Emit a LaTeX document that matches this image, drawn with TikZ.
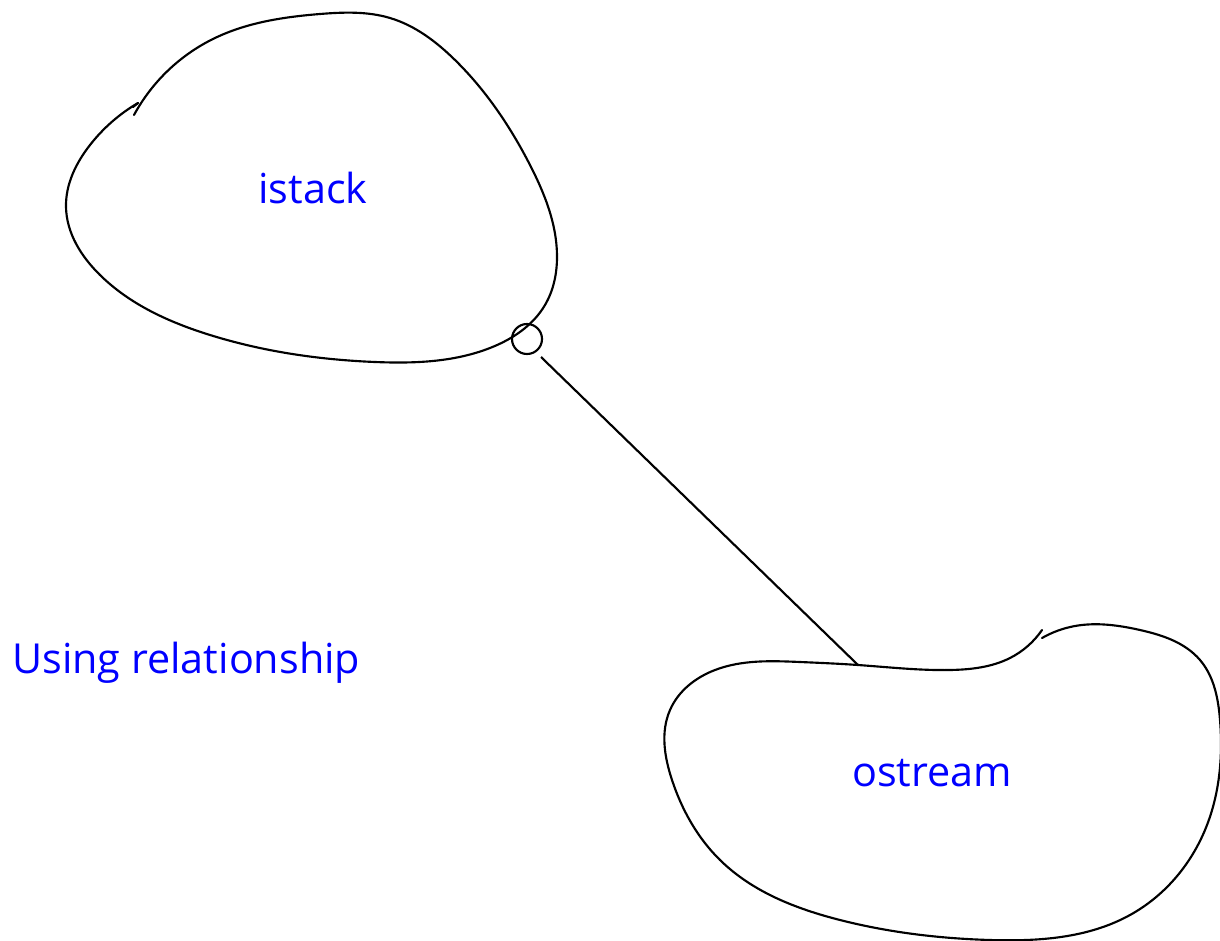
\documentclass[tikz,border=0pt]{standalone}
\usepackage{fontspec}
\setmainfont{Open Sans}
\usetikzlibrary{hobby}
\begin{document}
\begin{tikzpicture}[x=0.75pt,y=-0.75pt,
  cloudline/.style={draw=black,line width=1.6pt,line cap=round},
  label/.style={text=blue,font=\fontsize{31}{36}\selectfont,inner sep=0pt}]
\useasboundingbox (0,0) rectangle (1220,941);
% istack cloud
\draw[cloudline] (138,103) to[curve through={(90,145) (66,207) (100,275) (210,335) (375,362) (490,348) (545,305) (557,255) (530,165) (455,60) (390,18) (320,14) (215,38)}] (134,115);
\draw[cloudline] (138,103) -- (133,107);
% ostream cloud
\draw[cloudline] (1042,638) to[curve through={(1075,626) (1140,630) (1200,660) (1220,720) (1205,830) (1130,915) (990,940) (840,920) (720,860) (672,780) (670,710) (715,670) (800,662) (858,665) (950,670) (1010,658)}] (1042,630);
% connector
\node[circle,draw,line width=1.6pt,minimum size=22.5pt,inner sep=0pt] (c) at (527,339) {};
\coordinate (a) at (541,357);
\coordinate (b) at (858,665);
\draw[line width=1.6pt] (a) -- (b);
% labels
\node[label] (t1) at (313,188) {istack};
\node[label] (t2) at (932,773) {ostream};
\node[label,anchor=west] (t3) at (12,663) {Using relationship};
\end{tikzpicture}
\end{document}
